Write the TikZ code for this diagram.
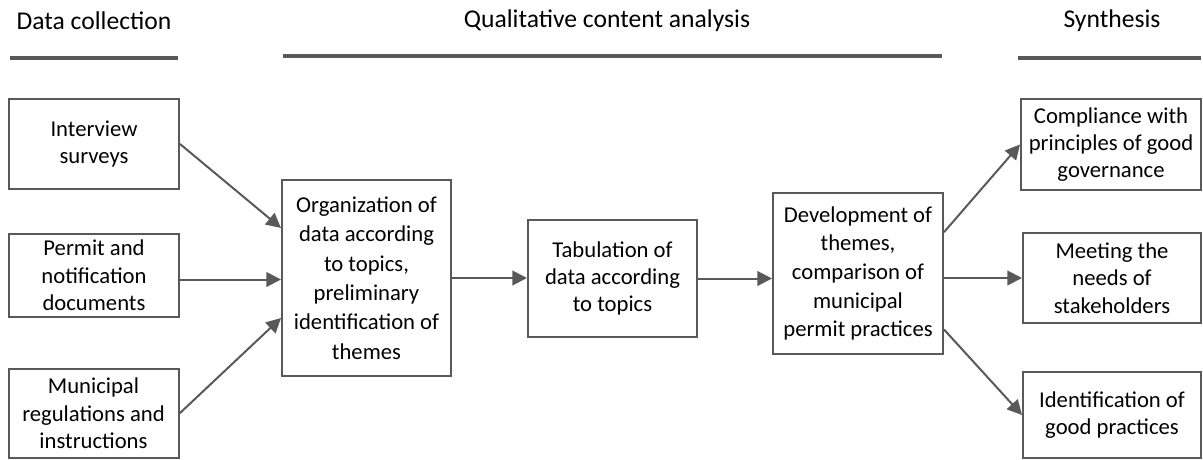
\documentclass[tikz,border=0pt]{standalone}
\usepackage{fontspec}
\setmainfont{Carlito}
\usetikzlibrary{arrows.meta,calc}
\definecolor{ln}{HTML}{595959}
\begin{document}
\begin{tikzpicture}[x=0.75pt,y=-0.75pt,
  every node/.style={font=\fontsize{17}{20.5}\selectfont, text=black},
  hdrtext/.style={font=\fontsize{19.2}{23}\selectfont},
  box/.style={draw=ln, line width=1.5pt, inner sep=0pt, align=center, minimum width=#1},
  box/.default=127.5pt,
  hdr/.style={draw=ln, line width=3pt},
  arr/.style={draw=ln, line width=1.5pt, -{Triangle[length=11pt,width=11pt]}}]
\useasboundingbox (0,0) rectangle (1203,460);
% headers
\node[hdrtext] (h1) at (94,21) {Data collection};
\node[hdrtext] (h2) at (607,21) {Qualitative content analysis};
\node[hdrtext] (h3) at (1112,21) {Synthesis};
\coordinate (l1a) at (10,58); \coordinate (l1b) at (178,58);
\coordinate (l2a) at (283,56); \coordinate (l2b) at (942,56);
\coordinate (l3a) at (1018,58); \coordinate (l3b) at (1201,58);
\draw[hdr] (l1a) -- (l1b);
\draw[hdr] (l2a) -- (l2b);
\draw[hdr] (l3a) -- (l3b);
% left column
\node[box, minimum height=67.5pt] (int) at (94,144) {Interview\\surveys};
\node[box, minimum height=62.25pt] (perm) at (94,275.5) {Permit and\\notification\\documents};
\node[box, minimum height=66.75pt] (mun) at (93.5,413.5) {Municipal\\regulations and\\instructions};
% middle
\node[box=126.75pt, minimum height=147pt, font=\fontsize{17}{22}\selectfont] (org) at (366.5,278) {Organization of\\data according\\to topics,\\preliminary\\identification of\\themes};
\node[box=126.75pt, minimum height=87.75pt] (tab) at (612.5,278.5) {Tabulation of\\data according\\to topics};
\node[box=127.5pt, minimum height=120.75pt, font=\fontsize{17}{21.5}\selectfont] (dev) at (858,273.5) {Development of\\themes,\\comparison of\\municipal\\permit practices};
% right column
\node[box=135pt, minimum height=68.25pt] (comp) at (1111,144.5) {Compliance with\\principles of good\\governance};
\node[box=133.5pt, minimum height=67.5pt] (meet) at (1112,278) {Meeting the\\needs of\\stakeholders};
\node[box=133.5pt, minimum height=64.5pt] (ident) at (1112,415) {Identification of\\good practices};
% arrows
\draw[arr] (int.east) -- ([yshift=37.5pt]org.west);
\draw[arr] ([yshift=-3pt]perm.east) -- ([yshift=-3pt]perm.east -| org.west);
\draw[arr] (mun.east) -- ([yshift=-30pt]org.west);
\draw[arr] (org.east) -- (org.east -| tab.west);
\draw[arr] (tab.east) -- (tab.east -| dev.west);
\draw[arr] ([yshift=31pt]dev.east) -- (comp.west);
\draw[arr] (dev.east |- meet.west) -- (meet.west);
\draw[arr] ([yshift=-42pt]dev.east) -- (ident.west);
\end{tikzpicture}
\end{document}
